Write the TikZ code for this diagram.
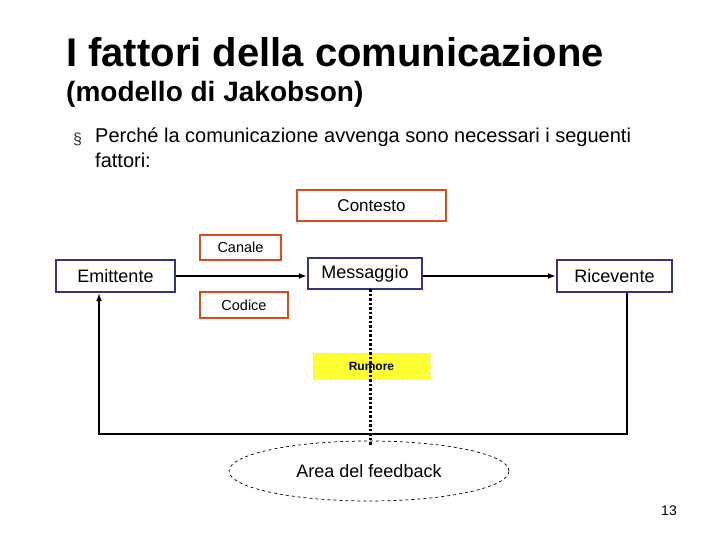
\documentclass[tikz,border=0pt]{standalone}
\usepackage{fontspec}
\setmainfont{Liberation Sans}
\usetikzlibrary{arrows.meta,shapes.geometric}
\definecolor{navy}{RGB}{51,51,136}
\definecolor{ored}{RGB}{224,72,32}
\definecolor{yel}{RGB}{255,255,51}
\begin{document}
\begin{tikzpicture}[x=1pt,y=-1pt,
  bluebox/.style={draw=navy,line width=2.4pt,fill=white,inner sep=0pt},
  redbox/.style={draw=ored,line width=2.4pt,fill=white,inner sep=0pt},
  arr/.style={-{Latex[length=8pt,width=6pt]},line width=1.5pt}]
\useasboundingbox (0,0) rectangle (720,540);
\node[anchor=west,font=\bfseries\fontsize{40}{44}\selectfont,inner sep=0pt] (t1) at (66,52) {I fattori della comunicazione};
\node[anchor=west,font=\bfseries\fontsize{28}{32}\selectfont,inner sep=0pt] (t2) at (66,94) {(modello di Jakobson)};
\node[anchor=west,font=\fontsize{16}{18}\selectfont,text=black!80,inner sep=0pt] (b) at (73,139) {\S};
\node[anchor=north west,align=left,font=\fontsize{20}{25}\selectfont,inner sep=0pt] (bt) at (95,128) {Perché la comunicazione avvenga sono necessari i seguenti\\fattori:};
\node[redbox,minimum width=149,minimum height=31,font=\fontsize{17}{19}\selectfont] (ctx) at (371.5,205.5) {Contesto};
\node[redbox,minimum width=81,minimum height=25,font=\fontsize{14.5}{16}\selectfont] (can) at (240.5,247.5) {Canale};
\node[redbox,minimum width=88,minimum height=26,font=\fontsize{14.5}{16}\selectfont] (cod) at (244,305) {Codice};
\node[bluebox,minimum width=119,minimum height=32,font=\fontsize{18}{20}\selectfont] (em) at (115.5,276) {Emittente};
\node[bluebox,minimum width=114,minimum height=31,font=\fontsize{18}{20}\selectfont,anchor=north] (msg) at (365,257) {\raisebox{4pt}{Messaggio}};
\node[bluebox,minimum width=115,minimum height=32,font=\fontsize{18}{20}\selectfont] (ric) at (614.5,276) {Ricevente};
\draw[arr] (em.east) -- (msg.west|-em.east);
\draw[arr] (msg.east|-ric.west) -- (ric.west);
\node[draw,ellipse,dashed,line width=0.7pt,minimum width=280,minimum height=60,font=\fontsize{18}{20}\selectfont] (fb) at (369,471) {Area del feedback};
\node[fill=yel,draw=yel!80!orange,dotted,minimum width=117,minimum height=26,inner sep=0pt,font=\bfseries\fontsize{12}{14}\selectfont] (rum) at (371.5,366) {Rumore};
\coordinate (d1) at (370,289);
\coordinate (d2) at (370,446);
\draw[line width=3pt,dash pattern=on 2.5pt off 2pt] (d1) -- (d2);
\coordinate (c1) at (627,434);
\coordinate (c2) at (99,434);
\draw[arr,line width=1.3pt] (ric.south-|c1) -- (c1) -- (c2) -- (c2|-em.south);
\node[font=\fontsize{14}{16}\selectfont] (pn) at (669,511) {13};
\end{tikzpicture}
\end{document}
